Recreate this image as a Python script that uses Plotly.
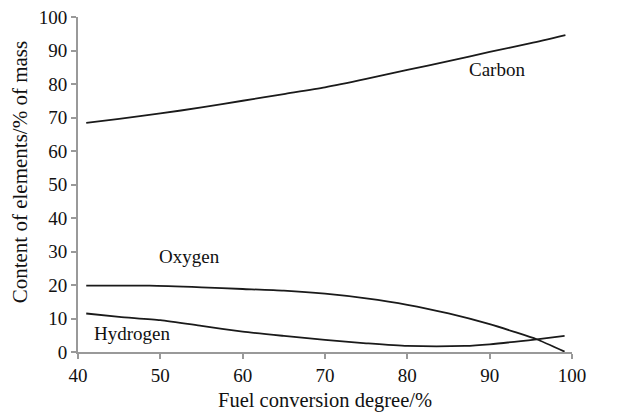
import plotly.graph_objects as go

carbon_x = [41, 45, 50, 55, 60, 65, 70, 75, 80, 85, 90, 95, 99.2]
carbon_y = [68.4, 69.6, 71.2, 73.0, 75.0, 77.0, 79.0, 81.5, 84.2, 86.8, 89.6, 92.2, 94.6]

oxygen_x = [41, 48.7, 55, 60, 65, 70, 75, 80, 85, 90, 93, 95.7, 99.1]
oxygen_y = [19.8, 19.8, 19.3, 18.8, 18.3, 17.4, 16.0, 14.1, 11.5, 8.3, 6.0, 3.8, 0.1]

hydrogen_x = [41, 45, 50, 55, 60, 65, 70, 75, 80, 87, 90, 95.7, 99.1]
hydrogen_y = [11.5, 10.5, 9.5, 7.8, 6.1, 4.8, 3.6, 2.6, 1.8, 1.8, 2.3, 3.8, 4.8]

labels = ["Carbon", "Oxygen", "Hydrogen"]
label_x = [90.9, 53.6, 46.5]
label_y = [84.2, 28.4, 5.6]

x_ticks = [40, 50, 60, 70, 80, 90, 100]
y_ticks = [0, 10, 20, 30, 40, 50, 60, 70, 80, 90, 100]

FONT = "Liberation Serif, Times New Roman, serif"
LINE = dict(color="#1a1a1a", width=1.8)

fig = go.Figure()
for xs, ys, name in [(carbon_x, carbon_y, "Carbon"), (oxygen_x, oxygen_y, "Oxygen"), (hydrogen_x, hydrogen_y, "Hydrogen")]:
    fig.add_trace(go.Scatter(x=xs, y=ys, mode="lines", line=dict(LINE, shape="spline", smoothing=0.6),
                             name=name, showlegend=False, hoverinfo="skip"))

for t, lx, ly in zip(labels, label_x, label_y):
    fig.add_annotation(x=lx, y=ly, text=t, showarrow=False,
                       font=dict(family=FONT, size=19, color="#111111"))

fig.add_annotation(xref="paper", yref="paper", x=-0.117, y=0.537, xanchor="center", yanchor="middle",
                   text="Content of elements/% of mass", textangle=-90, showarrow=False,
                   font=dict(family=FONT, size=21, color="#111111"))
fig.add_annotation(xref="paper", yref="paper", x=0.5, y=-0.146, xanchor="center", yanchor="middle",
                   text="Fuel conversion degree/%", showarrow=False,
                   font=dict(family=FONT, size=20.5, color="#111111"))

axis_common = dict(showgrid=False, zeroline=False, showline=True, linecolor="#999999", linewidth=2,
                   ticks="outside", tickcolor="#999999", ticklen=5, tickwidth=1.5,
                   tickfont=dict(family=FONT, size=19, color="#111111"), automargin=False)

fig.update_layout(
    width=630, height=414,
    margin=dict(l=78, r=58, t=17, b=62),
    paper_bgcolor="white", plot_bgcolor="white",
    font=dict(family=FONT),
    xaxis=dict(range=[40, 100], tickvals=x_ticks, **axis_common),
    yaxis=dict(range=[0, 100], tickvals=y_ticks, **axis_common),
)

fig.write_html("out.html")
